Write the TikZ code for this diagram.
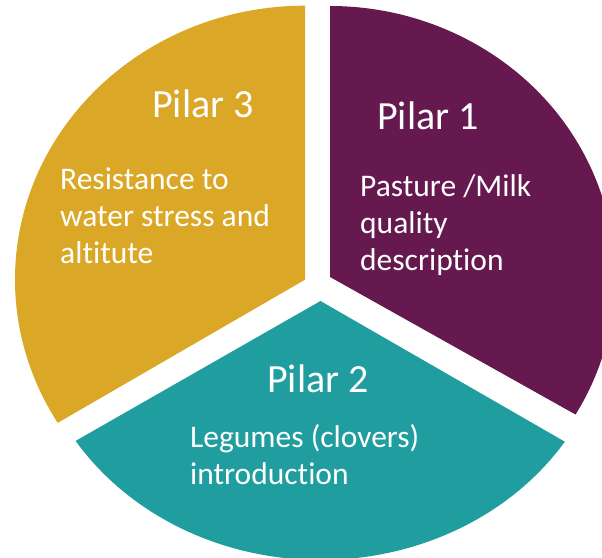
\documentclass[tikz,border=0pt]{standalone}
\usepackage{fontspec}
\setmainfont{Carlito}[Ligatures=NoCommon]
\definecolor{pilargold}{RGB}{218,168,38}
\definecolor{pilarplum}{RGB}{102,25,78}
\definecolor{pilarteal}{RGB}{32,157,158}

\begin{document}
\begin{tikzpicture}
		[x=1pt,y=1pt]
			\tikzstyle{every node}=[text=white, inner sep=0pt,
		anchor=base west, align=left]
			\tikzstyle{head}=[font=\fontsize{40}{48}\selectfont]
			\tikzstyle{body}=[font=\fontsize{31.5}{37}\selectfont]
		\clip (0,0) rectangle (602,557);
		%-----sectors
		 \foreach \cx/\cy/\rx/\ry/\from/\to/\col in {305/277.3/290/274/90/211.5/pilargold,330/280/285/271/-30.5/90/pilarplum,320.5/256/291/259/212.7/327.1/pilarteal}
		 \fill[\col] (\cx,\cy) -- ({\cx+\rx*cos(\from)},{\cy+\ry*sin(\from)}) arc[start angle=\from, end angle=\to, x radius=\rx, y radius=\ry] -- cycle;
		%-----labels (base = last line)
		 \node[head]  (P3) at (152,439) {Pilar 3};
		 \node[head]  (P1) at (377,427) {Pilar 1};
		 \node[head]  (P2) at (267,164) {Pilar 2};
		 \node[body]  (T3) at (60,293) {Resistance to\\water stress and\\altitute};
		 \node[body]  (T1) at (360,286) {Pasture /Milk\\quality\\description};
		 \node[body]  (T2) at (190,72.7) {Legumes (clovers)\\introduction};
		\end{tikzpicture}
\end{document}
